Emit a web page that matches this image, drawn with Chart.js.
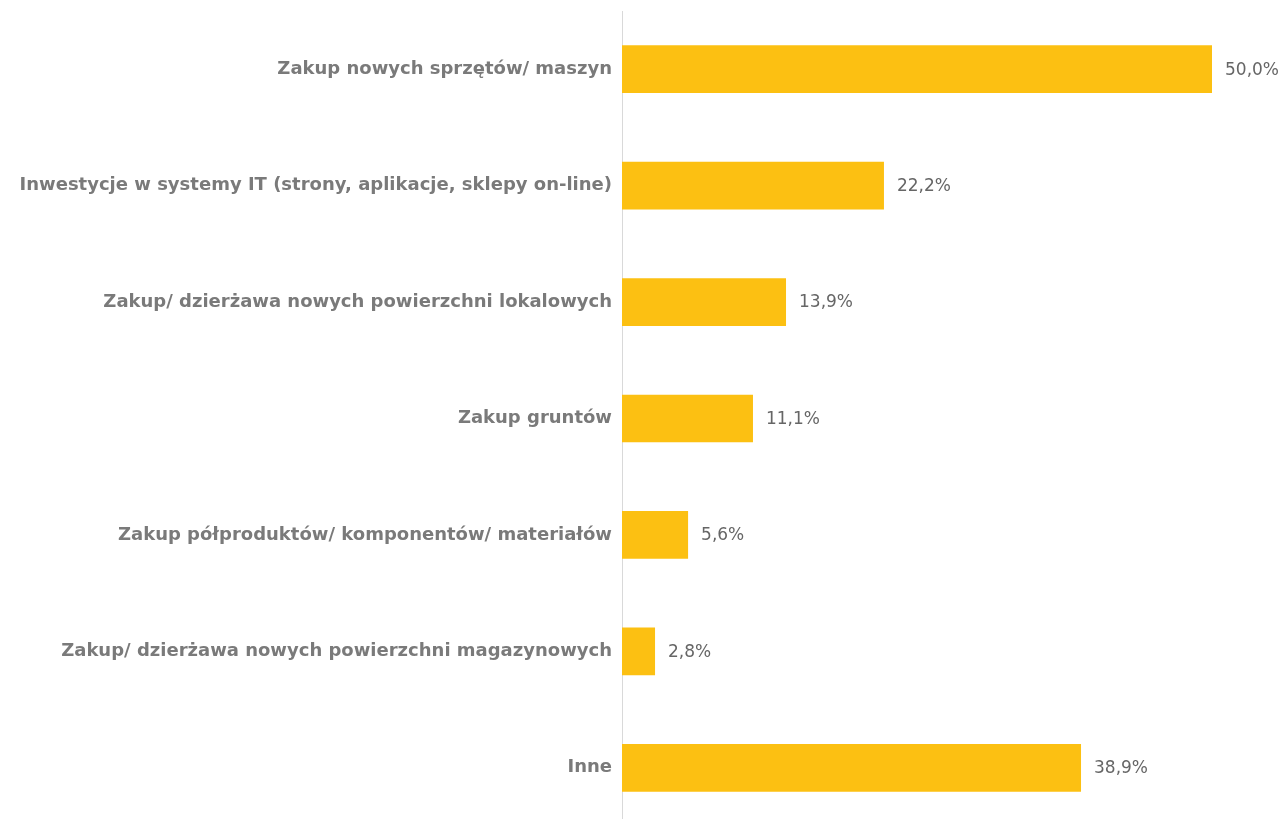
<!DOCTYPE html>
<html>
<head>
<meta charset="utf-8">
<script src="https://cdn.jsdelivr.net/npm/chart.js@4"></script>
<style>
  html, body { margin: 0; padding: 0; background: #fff; overflow: hidden; }
  #wrap { width: 1287px; height: 826px; position: relative; }
</style>
</head>
<body>
<div id="wrap"><canvas id="chart"></canvas></div>
<script>
const categories = [
    "Zakup nowych sprzętów/ maszyn",
    "Inwestycje w systemy IT (strony, aplikacje, sklepy on-line)",
    "Zakup/ dzierżawa nowych powierzchni lokalowych",
    "Zakup gruntów",
    "Zakup półproduktów/ komponentów/ materiałów",
    "Zakup/ dzierżawa nowych powierzchni magazynowych",
    "Inne"
];
const shares = [50.0, 22.2, 13.9, 11.1, 5.6, 2.8, 38.9];

// draws the percentage next to each bar
const valueLabels = {
    id: "valueLabels",
    afterDatasetsDraw(chart) {
        const ctx = chart.ctx;
        const meta = chart.getDatasetMeta(0);
        ctx.save();
        ctx.font = "17px 'DejaVu Sans'";
        ctx.fillStyle = "#666666";
        ctx.textAlign = "left";
        ctx.textBaseline = "middle";
        meta.data.forEach((bar, i) => {
            const txt = shares[i].toFixed(1).replace(".", ",") + "%";
            ctx.fillText(txt, bar.x + 13, bar.y + 1);
        });
        ctx.restore();
    }
};

const ctx = document.getElementById("chart").getContext("2d");
new Chart(ctx, {
    type: "bar",
    data: {
        labels: categories,
        datasets: [{
            data: shares,
            backgroundColor: "#FCC012",
            barPercentage: 0.41,
            categoryPercentage: 1
        }]
    },
    options: {
        indexAxis: "y",
        responsive: true,
        maintainAspectRatio: false,
        animation: false,
        layout: { padding: { top: 11, right: 16, left: 0, bottom: 0 } },
        plugins: {
            legend: { display: false },
            tooltip: { enabled: false }
        },
        scales: {
            x: {
                display: false,
                min: 0,
                max: 55
            },
            y: {
                afterFit(scale) {
                    scale.width = 622;
                    scale.paddingTop = 0;
                    scale.paddingBottom = 0;
                },
                grid: { display: false, drawTicks: false },
                border: { display: true, color: "#d9d9d9", width: 1 },
                ticks: {
                    padding: 10,
                    color: "#7a7a7a",
                    font: { family: "DejaVu Sans", size: 18, weight: "bold" }
                }
            }
        }
    },
    plugins: [valueLabels]
});
</script>
</body>
</html>
